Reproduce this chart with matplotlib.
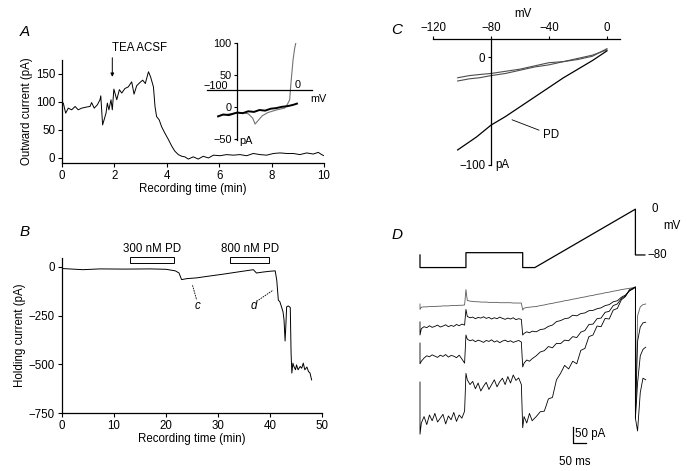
import numpy as np
import matplotlib
matplotlib.use("Agg")
import matplotlib.pyplot as plt
from matplotlib.patches import Rectangle

plt.rcParams['font.family'] = ['Liberation Sans', 'DejaVu Sans']
plt.rcParams['font.size'] = 8.3
plt.rcParams['axes.linewidth'] = 0.9

# ---------- panel A: outward current vs time ----------
a_time = [0.05, 0.14, 0.24, 0.37, 0.5, 0.62, 0.75, 0.94, 1.07, 1.13, 1.23, 1.35, 1.45, 1.48,
          1.55, 1.68, 1.73, 1.79, 1.87, 1.92, 1.98, 2.09, 2.19, 2.28, 2.4, 2.53, 2.66, 2.75,
          2.85, 2.98, 3.08, 3.18, 3.3, 3.38, 3.49, 3.55, 3.61, 3.71, 3.8, 3.93, 4.06, 4.19,
          4.31, 4.44, 4.57, 4.69, 4.82, 5.01, 5.2, 5.39, 5.59, 5.78, 6.03, 6.28, 6.54, 6.79,
          7.05, 7.3, 7.56, 7.81, 8.07, 8.32, 8.58, 8.83, 9.08, 9.34, 9.59, 9.78, 9.91, 10.0]
a_current = [98, 80, 89, 86, 92, 86, 89, 91, 92, 99, 89, 95, 104, 111,
             59, 80, 98, 86, 104, 86, 123, 104, 122, 116, 124, 127, 136, 114,
             129, 135, 139, 133, 154, 145, 127, 92, 74, 68, 56, 44, 33, 21,
             12, 6, 3, 2, -2, 2, -2, 3, 0, 5, 4, 6, 5, 6,
             4, 8, 6, 5, 8, 9, 8, 8, 6, 9, 7, 10, 6, 4]

# inset A: I-V ramps
ia_ctrl_mv = [-134, -125, -115, -100, -90, -80, -70, -60, -50, -40, -30, -20, -10, 0, 7]
ia_ctrl_pa = [-15, -12, -13, -9, -10, -7, -8, -5, -6, -3, -2, 0, 1, 3, 5]
ia_tea_mv = [-134, -120, -105, -90, -80, -72, -68, -63, -55, -45, -30, -15, -10, -6, -4, 0, 3, 5]
ia_tea_pa = [-14, -12, -10, -9, -11, -18, -27, -22, -14, -9, -5, -2, 4, 11, 34, 73, 92, 100]

# ---------- panel B: holding current vs time ----------
b_time = [0, 4, 7.3, 12, 17, 20, 21.8, 22.5, 23.0, 24.0, 25.9, 28, 31, 34, 36.8, 37.4,
          38.7, 40.0, 41.0, 41.3, 41.6, 41.9, 42.2, 42.5, 42.7, 42.9, 43.05, 43.2, 43.5,
          43.9, 44.05, 44.2, 44.4, 44.6, 44.9, 45.1, 45.4, 45.8, 46.1, 46.4, 46.7, 47.1,
          47.4, 47.7, 48.0]
b_current = [-8, -14, -10, -11, -10, -12, -20, -31, -65, -60, -56, -48, -37, -25, -14, -31,
             -26, -22, -20, -68, -170, -179, -204, -230, -272, -380, -300, -205, -200,
             -208, -440, -545, -494, -511, -528, -503, -528, -511, -520, -494, -528, -514,
             -537, -545, -580]
b_drugs = ["300 nM PD", "800 nM PD"]
b_drug_start = [13.1, 32.3]
b_drug_end = [21.5, 39.9]

# ---------- panel C: I-V relations ----------
c_ctrl1_mv = [-103, -95, -88, -80, -70, -60, -50, -40, -30, -20, -10, 0]
c_ctrl1_pa = [-22, -20, -19, -17, -15, -12, -9, -7, -4, -1, 2, 7]
c_ctrl2_mv = [-103, -95, -88, -80, -70, -60, -50, -40, -30, -20, -10, 0]
c_ctrl2_pa = [-19, -17, -16, -15, -13, -11, -8, -5, -4, -2, 1, 8]
c_pd_mv = [-103, -90, -80, -70, -60, -50, -40, -30, -20, -10, 0]
c_pd_pa = [-86, -74, -63, -55, -46, -37, -28, -19, -11, -3, 6]

# ---------- panel D: voltage protocol and currents ----------
d_prot_t = [0, 0, 170, 170, 380, 380, 425, 797, 797, 832]
d_prot_mv = [-80, -102, -102, -76, -76, -102, -102, 0, -80, -80]

t_seg1 = np.arange(5, 170, 10)
t_seg2 = np.arange(175, 380, 10)
t_seg3 = np.arange(385, 425, 10)
t_ramp = np.arange(430, 800, 15)
t_tail = [805, 815, 825, 835]

# per trace: hold, dip, seg1, spike, seg2, undershoot, seg3, ramp, tail
d_tr1 = dict(hold=-53, dip=-70,
             seg1=[-63, -62, -62, -61, -61, -61, -60, -60, -59, -59, -59, -58, -58, -58, -57, -57, -56],
             spike=-8,
             seg2=[-42, -44, -45, -46, -46, -47, -47, -47, -48, -48, -48, -48, -49, -49, -49, -49, -49,
                   -50, -50, -50, -50],
             under=-72, seg3=[-66, -64, -63, -62],
             ramp=[-61, -58, -56, -53, -51, -48, -46, -43, -41, -38, -36, -33, -31, -28, -26, -23,
                   -21, -18, -16, -13, -11, -8, -6, -4, -2],
             tail=[-90, -62, -55, -53])
d_tr2 = dict(hold=-109, dip=-150,
             seg1=[-130, -124, -127, -121, -126, -123, -119, -125, -122, -118, -124, -120, -123, -117,
                   -121, -116, -119],
             spike=-70,
             seg2=[-92, -96, -94, -99, -95, -97, -93, -98, -95, -100, -96, -99, -94, -98, -101, -97,
                   -100, -96, -102, -99, -101],
             under=-150, seg3=[-145, -140, -143, -138],
             ramp=[-140, -133, -131, -123, -119, -108, -105, -99, -97, -88, -90, -83, -81, -74, -73,
                   -68, -65, -58, -55, -46, -43, -32, -25, -12, -5],
             tail=[-170, -125, -112, -110])
d_tr3 = dict(hold=-175, dip=-240,
             seg1=[-232, -222, -215, -218, -212, -216, -220, -213, -217, -211, -219, -214, -216, -221,
                   -213, -225, -238],
             spike=-150,
             seg2=[-163, -168, -165, -171, -166, -169, -173, -167, -170, -165, -172, -168, -174, -169,
                   -166, -171, -168, -173, -170, -167, -172],
             under=-250, seg3=[-238, -228, -232, -224],
             ramp=[-215, -203, -199, -186, -190, -176, -177, -166, -168, -155, -158, -141, -136, -117,
                   -116, -99, -97, -79, -76, -58, -53, -36, -28, -11, -4],
             tail=[-300, -215, -195, -188])
d_tr4 = dict(hold=-297, dip=-460,
             seg1=[-425, -405, -430, -400, -418, -395, -422, -410, -398, -428, -403, -415, -392, -420,
                   -400, -410, -388],
             spike=-270,
             seg2=[-290, -305, -295, -318, -300, -325, -310, -298, -320, -305, -290, -312, -296, -285,
                   -305, -280, -300, -275, -292, -284, -305],
             under=-440, seg3=[-405, -425, -395, -418],
             ramp=[-405, -390, -388, -350, -345, -290, -270, -245, -256, -232, -240, -198, -192, -155,
                   -150, -122, -124, -98, -100, -72, -67, -40, -30, -8, -3],
             tail=[-450, -330, -285, -290])
d_traces = [d_tr1, d_tr2, d_tr3, d_tr4]
d_colors = ['0.35', 'black', 'black', 'black']


def build_trace(tr):
    t = ([0, 0] + list(t_seg1) + [170] + list(t_seg2) + [380] + list(t_seg3)
         + list(t_ramp) + [797, 797] + t_tail)
    v = ([tr['hold'], tr['dip']] + tr['seg1'] + [tr['spike']] + tr['seg2'] + [tr['under']]
         + tr['seg3'] + tr['ramp'] + [0, -410] + tr['tail'])
    return t, v


W, H = 693, 471


def px_axes(fig, left, top, right, bottom):
    return fig.add_axes([left / W, 1 - bottom / H, (right - left) / W, (bottom - top) / H])


fig = plt.figure(figsize=(W / 100, H / 100), dpi=100)

# ---- A ----
ax = px_axes(fig, 62, 60, 324, 163)
ax.plot(a_time, a_current, color='black', lw=0.7)
ax.set_xlim(0, 10)
ax.set_ylim(-9, 175)
ax.set_xticks([0, 2, 4, 6, 8, 10])
ax.set_yticks([0, 50, 100, 150])
for s in ['top', 'right']:
    ax.spines[s].set_visible(False)
ax.tick_params(length=3, width=0.8, pad=2)
ax.set_xlabel('Recording time (min)', labelpad=1)
ax.set_ylabel('Outward current (pA)', labelpad=2)
ax.annotate('', xy=(1.92, 140), xytext=(1.92, 184), annotation_clip=False,
            arrowprops=dict(arrowstyle='-|>', lw=0.7, color='black', mutation_scale=5))
ax.text(1.92, 196, 'TEA ACSF', ha='left', va='center', clip_on=False)

# inset A
ins = px_axes(fig, 207, 43, 312, 140)
ins.plot(ia_tea_mv, ia_tea_pa, color='0.45', lw=0.8)
ins.plot(ia_ctrl_mv, ia_ctrl_pa, color='black', lw=1.4)
ins.set_xlim(-154, 34)
ins.set_ylim(-52, 100)
ins.patch.set_visible(False)
for s in ['top', 'right']:
    ins.spines[s].set_visible(False)
ins.spines['left'].set_position(('data', -100))
ins.spines['bottom'].set_position(('data', 27))
ins.set_xticks([])
ins.set_yticks([100, 50, 0, -50])
ins.tick_params(axis='y', length=2.5, width=0.8, pad=1.5, labelsize=7.8)
ins.text(-117, 25.5, '\u2212100', ha='right', va='bottom', fontsize=7.8)
ins.text(3, 26, '0', ha='left', va='bottom', fontsize=7.8)
ins.text(46, 12, 'mV', ha='center', va='center', clip_on=False, fontsize=7.8)
ins.text(-96, -53, 'pA', ha='left', va='center', clip_on=False, fontsize=7.8)

# ---- B ----
bx = px_axes(fig, 62, 258, 322, 413)
bx.plot(b_time, b_current, color='black', lw=0.7)
bx.set_xlim(0, 50)
bx.set_ylim(-750, 46)
bx.set_xticks([0, 10, 20, 30, 40, 50])
bx.set_yticks([0, -250, -500, -750])
for s in ['top', 'right']:
    bx.spines[s].set_visible(False)
bx.tick_params(length=3, width=0.8, pad=2)
bx.set_xlabel('Recording time (min)', labelpad=1)
bx.set_ylabel('Holding current (pA)', labelpad=2)
for name, t0, t1 in zip(b_drugs, b_drug_start, b_drug_end):
    bx.add_patch(Rectangle((t0, 22), t1 - t0, 29, fill=False, lw=0.7, ec='black', clip_on=False))
    bx.text((t0 + t1) / 2, 62, name, ha='center', va='bottom', clip_on=False)
bx.plot([25.1, 25.9], [-94, -170], color='black', lw=0.6, ls=(0, (2, 1)))
bx.text(26.1, -200, 'c', ha='center', va='center', style='italic')
bx.plot([37.8, 40.6], [-170, -119], color='black', lw=0.6, ls=(0, (2, 1)))
bx.text(36.9, -200, 'd', ha='center', va='center', style='italic')

# ---- C ----
cx = px_axes(fig, 433, 39, 620, 165)
cx.plot(c_ctrl1_mv, c_ctrl1_pa, color='0.3', lw=0.8)
cx.plot(c_ctrl2_mv, c_ctrl2_pa, color='0.3', lw=0.8)
cx.plot(c_pd_mv, c_pd_pa, color='black', lw=0.9)
cx.set_xlim(-120, 9)
cx.set_ylim(-100, 17)
cx.patch.set_visible(False)
cx.spines['right'].set_visible(False)
cx.spines['bottom'].set_visible(False)
cx.spines['left'].set_position(('data', -80))
cx.xaxis.tick_top()
cx.set_xticks([-120, -80, -40, 0])
cx.set_yticks([0, -100])
cx.tick_params(axis='x', length=2, width=0.8, pad=1.5)
cx.tick_params(axis='y', length=2.5, width=0.8, pad=1.5)
cx.text(-58, 40, 'mV', ha='center', va='center', clip_on=False)
cx.text(-77, -100, 'pA', ha='left', va='center')
cx.annotate('PD', xy=(-65.5, -58), xytext=(-44, -72), ha='left', va='center',
            arrowprops=dict(arrowstyle='-', lw=0.6, color='black', shrinkA=1, shrinkB=0))

# ---- D ----
dv = px_axes(fig, 410, 200, 690, 275)
dv.plot(d_prot_t, d_prot_mv, color='black', lw=0.9)
dv.set_xlim(-37, 999)
dv.set_ylim(-115, 16)
dv.axis('off')
dv.text(869, 0, '0', ha='center', va='center')
dv.text(932, -30, 'mV', ha='center', va='center')
dv.text(842, -80, '\u221280', ha='left', va='center')

di = px_axes(fig, 410, 280, 690, 470)
for tr, col in zip(d_traces, d_colors):
    tt, vv = build_trace(tr)
    di.plot(tt, vv, color=col, lw=0.6)
di.plot([566, 566, 616], [-437, -487, -487], color='black', lw=0.9)
di.text(575, -458, '50 pA', ha='left', va='center')
di.text(574, -547, '50 ms', ha='center', va='center')
di.set_xlim(-37, 999)
di.set_ylim(-572, 22)
di.axis('off')

# panel letters
for letter, x, y in [('A', 25, 32), ('B', 25, 232), ('C', 397, 30), ('D', 397, 235)]:
    fig.text(x / W, 1 - y / H, letter, ha='center', va='center', fontsize=11, style='italic')

fig.savefig('out.png', dpi=100)
